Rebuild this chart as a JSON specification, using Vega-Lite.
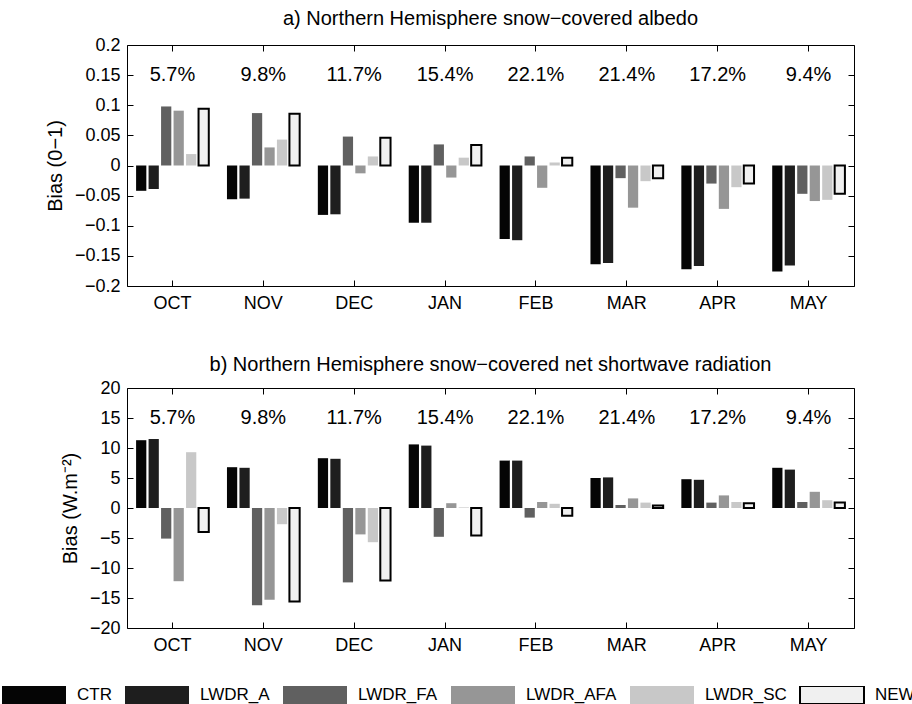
{
  "$schema": "https://vega.github.io/schema/vega-lite/v6.json",
  "padding": {"left": 1, "top": 8, "right": 0, "bottom": 0},
  "config": {
    "font": "Liberation Sans",
    "view": {"stroke": "#000000", "strokeWidth": 1},
    "axis": {"grid": false, "domain": false, "tickColor": "#000000", "tickSize": -6, "tickWidth": 1, "labelColor": "#000000", "labelFontSize": 18, "titleColor": "#000000", "titleFontSize": 20, "titleFontWeight": "normal"},
    "title": {"fontSize": 20, "fontWeight": "normal", "color": "#000000", "anchor": "middle"},
    "legend": {"labelFontSize": 17, "labelColor": "#000000"}
  },
  "datasets": {
    "albedo": [
      {"month": "OCT", "series": "CTR", "value": -0.042}, {"month": "OCT", "series": "LWDR_A", "value": -0.039}, {"month": "OCT", "series": "LWDR_FA", "value": 0.098}, {"month": "OCT", "series": "LWDR_AFA", "value": 0.091}, {"month": "OCT", "series": "LWDR_SC", "value": 0.019}, {"month": "OCT", "series": "NEW", "value": 0.094},
      {"month": "NOV", "series": "CTR", "value": -0.056}, {"month": "NOV", "series": "LWDR_A", "value": -0.055}, {"month": "NOV", "series": "LWDR_FA", "value": 0.087}, {"month": "NOV", "series": "LWDR_AFA", "value": 0.030}, {"month": "NOV", "series": "LWDR_SC", "value": 0.043}, {"month": "NOV", "series": "NEW", "value": 0.086},
      {"month": "DEC", "series": "CTR", "value": -0.082}, {"month": "DEC", "series": "LWDR_A", "value": -0.081}, {"month": "DEC", "series": "LWDR_FA", "value": 0.048}, {"month": "DEC", "series": "LWDR_AFA", "value": -0.013}, {"month": "DEC", "series": "LWDR_SC", "value": 0.015}, {"month": "DEC", "series": "NEW", "value": 0.046},
      {"month": "JAN", "series": "CTR", "value": -0.095}, {"month": "JAN", "series": "LWDR_A", "value": -0.095}, {"month": "JAN", "series": "LWDR_FA", "value": 0.035}, {"month": "JAN", "series": "LWDR_AFA", "value": -0.020}, {"month": "JAN", "series": "LWDR_SC", "value": 0.013}, {"month": "JAN", "series": "NEW", "value": 0.034},
      {"month": "FEB", "series": "CTR", "value": -0.122}, {"month": "FEB", "series": "LWDR_A", "value": -0.124}, {"month": "FEB", "series": "LWDR_FA", "value": 0.015}, {"month": "FEB", "series": "LWDR_AFA", "value": -0.037}, {"month": "FEB", "series": "LWDR_SC", "value": 0.005}, {"month": "FEB", "series": "NEW", "value": 0.013},
      {"month": "MAR", "series": "CTR", "value": -0.164}, {"month": "MAR", "series": "LWDR_A", "value": -0.162}, {"month": "MAR", "series": "LWDR_FA", "value": -0.021}, {"month": "MAR", "series": "LWDR_AFA", "value": -0.070}, {"month": "MAR", "series": "LWDR_SC", "value": -0.026}, {"month": "MAR", "series": "NEW", "value": -0.021},
      {"month": "APR", "series": "CTR", "value": -0.172}, {"month": "APR", "series": "LWDR_A", "value": -0.167}, {"month": "APR", "series": "LWDR_FA", "value": -0.030}, {"month": "APR", "series": "LWDR_AFA", "value": -0.072}, {"month": "APR", "series": "LWDR_SC", "value": -0.036}, {"month": "APR", "series": "NEW", "value": -0.030},
      {"month": "MAY", "series": "CTR", "value": -0.176}, {"month": "MAY", "series": "LWDR_A", "value": -0.166}, {"month": "MAY", "series": "LWDR_FA", "value": -0.047}, {"month": "MAY", "series": "LWDR_AFA", "value": -0.059}, {"month": "MAY", "series": "LWDR_SC", "value": -0.057}, {"month": "MAY", "series": "NEW", "value": -0.047}
    ],
    "sw": [
      {"month": "OCT", "series": "CTR", "value": 11.3}, {"month": "OCT", "series": "LWDR_A", "value": 11.5}, {"month": "OCT", "series": "LWDR_FA", "value": -5.1}, {"month": "OCT", "series": "LWDR_AFA", "value": -12.2}, {"month": "OCT", "series": "LWDR_SC", "value": 9.3}, {"month": "OCT", "series": "NEW", "value": -4.0},
      {"month": "NOV", "series": "CTR", "value": 6.8}, {"month": "NOV", "series": "LWDR_A", "value": 6.7}, {"month": "NOV", "series": "LWDR_FA", "value": -16.2}, {"month": "NOV", "series": "LWDR_AFA", "value": -15.3}, {"month": "NOV", "series": "LWDR_SC", "value": -2.7}, {"month": "NOV", "series": "NEW", "value": -15.6},
      {"month": "DEC", "series": "CTR", "value": 8.3}, {"month": "DEC", "series": "LWDR_A", "value": 8.2}, {"month": "DEC", "series": "LWDR_FA", "value": -12.4}, {"month": "DEC", "series": "LWDR_AFA", "value": -4.4}, {"month": "DEC", "series": "LWDR_SC", "value": -5.7}, {"month": "DEC", "series": "NEW", "value": -12.1},
      {"month": "JAN", "series": "CTR", "value": 10.6}, {"month": "JAN", "series": "LWDR_A", "value": 10.4}, {"month": "JAN", "series": "LWDR_FA", "value": -4.8}, {"month": "JAN", "series": "LWDR_AFA", "value": 0.8}, {"month": "JAN", "series": "LWDR_SC", "value": 0.1}, {"month": "JAN", "series": "NEW", "value": -4.6},
      {"month": "FEB", "series": "CTR", "value": 7.9}, {"month": "FEB", "series": "LWDR_A", "value": 7.9}, {"month": "FEB", "series": "LWDR_FA", "value": -1.6}, {"month": "FEB", "series": "LWDR_AFA", "value": 1.0}, {"month": "FEB", "series": "LWDR_SC", "value": 0.7}, {"month": "FEB", "series": "NEW", "value": -1.3},
      {"month": "MAR", "series": "CTR", "value": 5.0}, {"month": "MAR", "series": "LWDR_A", "value": 5.1}, {"month": "MAR", "series": "LWDR_FA", "value": 0.5}, {"month": "MAR", "series": "LWDR_AFA", "value": 1.6}, {"month": "MAR", "series": "LWDR_SC", "value": 0.9}, {"month": "MAR", "series": "NEW", "value": 0.4},
      {"month": "APR", "series": "CTR", "value": 4.8}, {"month": "APR", "series": "LWDR_A", "value": 4.7}, {"month": "APR", "series": "LWDR_FA", "value": 0.9}, {"month": "APR", "series": "LWDR_AFA", "value": 2.1}, {"month": "APR", "series": "LWDR_SC", "value": 1.0}, {"month": "APR", "series": "NEW", "value": 0.8},
      {"month": "MAY", "series": "CTR", "value": 6.7}, {"month": "MAY", "series": "LWDR_A", "value": 6.4}, {"month": "MAY", "series": "LWDR_FA", "value": 1.0}, {"month": "MAY", "series": "LWDR_AFA", "value": 2.7}, {"month": "MAY", "series": "LWDR_SC", "value": 1.3}, {"month": "MAY", "series": "NEW", "value": 0.9}
    ],
    "pct": [
      {"month": "OCT", "label": "5.7%"}, {"month": "NOV", "label": "9.8%"}, {"month": "DEC", "label": "11.7%"}, {"month": "JAN", "label": "15.4%"},
      {"month": "FEB", "label": "22.1%"}, {"month": "MAR", "label": "21.4%"}, {"month": "APR", "label": "17.2%"}, {"month": "MAY", "label": "9.4%"}
    ]
  },
  "vconcat": [
    {
      "width": 727, "height": 241,
      "title": {"text": "a) Northern Hemisphere snow−covered albedo", "offset": 7, "fontSize": 20},
      "layer": [
        {
          "data": {"name": "albedo"},
          "mark": {"type": "bar", "strokeWidth": 2},
          "encoding": {
            "x": {"field": "month", "type": "nominal", "sort": ["OCT","NOV","DEC","JAN","FEB","MAR","APR","MAY"], "scale": {"paddingInner": 0.2, "paddingOuter": 0.1}, "axis": {"title": null, "labelAngle": 0, "labelPadding": 14, "labelFontSize": 18, "orient": "bottom"}},
            "xOffset": {"field": "series", "type": "nominal", "sort": ["CTR","LWDR_A","LWDR_FA","LWDR_AFA","LWDR_SC","NEW"], "scale": {"paddingInner": 0.18, "paddingOuter": 0}},
            "y": {"field": "value", "type": "quantitative", "scale": {"domain": [-0.2, 0.2], "nice": false}, "axis": {"title": "Bias (0−1)", "titleFontSize": 20, "titleFontWeight": "normal", "labelFontSize": 18, "values": [-0.2,-0.15,-0.1,-0.05,0,0.05,0.1,0.15,0.2], "format": ".2~f", "labelPadding": 13, "titlePadding": 9}},
            "fill": {"field": "series", "type": "nominal", "sort": ["CTR","LWDR_A","LWDR_FA","LWDR_AFA","LWDR_SC","NEW"], "scale": {"domain": ["CTR","LWDR_A","LWDR_FA","LWDR_AFA","LWDR_SC","NEW"], "range": ["#050505","#1e1e1e","#606060","#969696","#c8c8c8","#f0f0f0"]}, "legend": {"title": null, "orient": "none", "direction": "horizontal", "columns": 6, "legendX": -126, "legendY": 641, "symbolType": "M-1,-0.28H1V0.28H-1Z", "symbolSize": 4096, "clipHeight": 18, "symbolStrokeWidth": 2, "labelOffset": 10, "labelFontSize": 17, "columnPadding": 12}},
            "stroke": {"field": "series", "type": "nominal", "scale": {"domain": ["CTR","LWDR_A","LWDR_FA","LWDR_AFA","LWDR_SC","NEW"], "range": ["rgba(0,0,0,0)","rgba(0,0,0,0)","rgba(0,0,0,0)","rgba(0,0,0,0)","rgba(0,0,0,0)","#000000"]}, "legend": {"title": null, "orient": "none", "direction": "horizontal", "columns": 6, "legendX": -126, "legendY": 641, "symbolType": "M-1,-0.28H1V0.28H-1Z", "symbolSize": 4096, "clipHeight": 18, "symbolStrokeWidth": 2, "labelOffset": 10, "labelFontSize": 17, "columnPadding": 12}}
          }
        },
        {
          "mark": {"type": "rule", "color": "#000000", "strokeWidth": 1},
          "encoding": {"y": {"datum": 0, "type": "quantitative", "axis": null}}
        },
        {
          "data": {"name": "pct"},
          "mark": {"type": "text", "fontSize": 20, "color": "#000000", "baseline": "middle"},
          "encoding": {
            "x": {"field": "month", "type": "nominal", "sort": ["OCT","NOV","DEC","JAN","FEB","MAR","APR","MAY"], "axis": {"orient": "top", "labels": false, "title": null}},
            "y": {"datum": 0.15, "type": "quantitative", "axis": {"orient": "right", "labels": false, "title": null, "values": [-0.2,-0.15,-0.1,-0.05,0,0.05,0.1,0.15,0.2]}},
            "text": {"field": "label"}
          }
        }
      ],
      "resolve": {"axis": {"x": "independent", "y": "independent"}}
    },
    {
      "width": 727, "height": 240,
      "title": {"text": "b) Northern Hemisphere snow−covered net shortwave radiation", "offset": 4, "fontSize": 20},
      "layer": [
        {
          "data": {"name": "sw"},
          "mark": {"type": "bar", "strokeWidth": 2},
          "encoding": {
            "x": {"field": "month", "type": "nominal", "sort": ["OCT","NOV","DEC","JAN","FEB","MAR","APR","MAY"], "scale": {"paddingInner": 0.2, "paddingOuter": 0.1}, "axis": {"title": null, "labelAngle": 0, "labelPadding": 14, "labelFontSize": 18, "orient": "bottom"}},
            "xOffset": {"field": "series", "type": "nominal", "sort": ["CTR","LWDR_A","LWDR_FA","LWDR_AFA","LWDR_SC","NEW"], "scale": {"paddingInner": 0.18, "paddingOuter": 0}},
            "y": {"field": "value", "type": "quantitative", "scale": {"domain": [-20, 20], "nice": false}, "axis": {"title": "Bias (W.m⁻²)", "titleFontSize": 20, "titleFontWeight": "normal", "labelFontSize": 18, "values": [-20,-15,-10,-5,0,5,10,15,20], "format": "d", "labelPadding": 13, "titlePadding": 9}},
            "fill": {"field": "series", "type": "nominal", "sort": ["CTR","LWDR_A","LWDR_FA","LWDR_AFA","LWDR_SC","NEW"]},
            "stroke": {"field": "series", "type": "nominal"}
          }
        },
        {
          "mark": {"type": "rule", "color": "#000000", "strokeWidth": 1},
          "encoding": {"y": {"datum": 0, "type": "quantitative", "axis": null}}
        },
        {
          "data": {"name": "pct"},
          "mark": {"type": "text", "fontSize": 20, "color": "#000000", "baseline": "middle"},
          "encoding": {
            "x": {"field": "month", "type": "nominal", "sort": ["OCT","NOV","DEC","JAN","FEB","MAR","APR","MAY"], "axis": {"orient": "top", "labels": false, "title": null}},
            "y": {"datum": 15, "type": "quantitative", "axis": {"orient": "right", "labels": false, "title": null, "values": [-20,-15,-10,-5,0,5,10,15,20]}},
            "text": {"field": "label"}
          }
        }
      ],
      "resolve": {"axis": {"x": "independent", "y": "independent"}}
    }
  ],
  "spacing": 41,
  "resolve": {"scale": {"fill": "shared", "stroke": "shared"}}
}
